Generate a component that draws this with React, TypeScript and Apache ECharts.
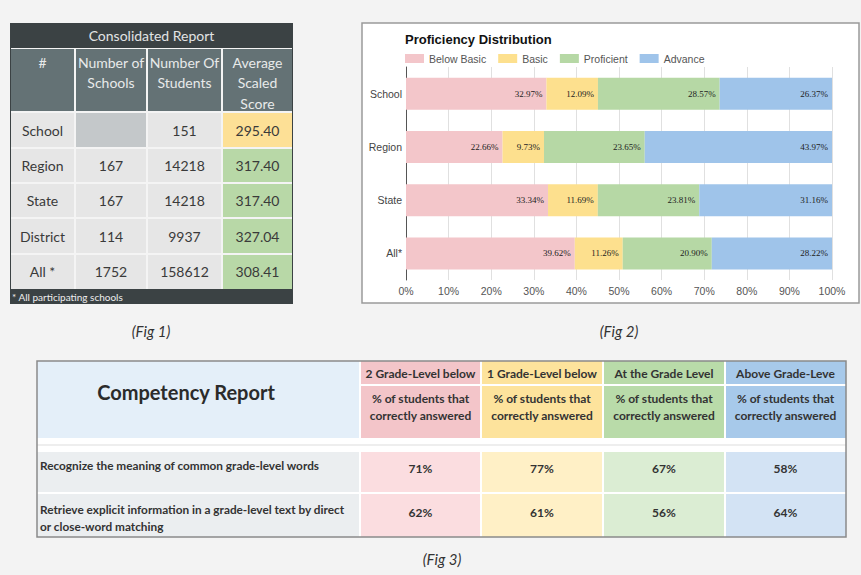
import { useEffect, useRef } from 'react';
import * as echarts from 'echarts';

// ---------- Fig 2 data ----------
const categories = ['School', 'Region', 'State', 'All*'];
const levelNames = ['Below Basic', 'Basic', 'Proficient', 'Advance'];
const belowBasic = [32.97, 22.66, 33.34, 39.62];
const basic = [12.09, 9.73, 11.69, 11.26];
const proficient = [28.57, 23.65, 23.81, 20.9];
const advance = [26.37, 43.97, 31.16, 28.22];
const xTicks = [0, 10, 20, 30, 40, 50, 60, 70, 80, 90, 100];

// ---------- Fig 1 data ----------
const reportTitle = 'Consolidated Report';
const reportHeaders = ['#', 'Number of\nSchools', 'Number Of\nStudents', 'Average\nScaled\nScore'];
const reportRows = ['School', 'Region', 'State', 'District', 'All *'];
const numSchools: (number | null)[] = [null, 167, 167, 114, 1752];
const numStudents = [151, 14218, 14218, 9937, 158612];
const avgScore = [295.4, 317.4, 317.4, 327.04, 308.41];
const reportFootnote = '* All participating schools';

// ---------- Fig 3 data ----------
const competencyTitle = 'Competency Report';
const gradeLevels = ['2 Grade-Level below', '1 Grade-Level below', 'At the Grade Level', 'Above Grade-Leve'];
const gradeSubHeader = '% of students that\ncorrectly answered';
const competencies = [
  'Recognize the meaning of common grade-level words',
  'Retrieve explicit information in a grade-level text by direct\nor close-word matching',
];
const pctCompetency1 = [71, 77, 67, 58];
const pctCompetency2 = [62, 61, 56, 64];

const captions = ['(Fig 1)', '(Fig 2)', '(Fig 3)'];

// ---------- styles ----------
const barColors = ['#f3c6ca', '#fde08e', '#b6d8a5', '#9fc4ea'];
const headColors = ['#f3c5c9', '#fde39c', '#b9dba9', '#a7c9ea'];
const bodyColors = ['#fbdde0', '#fff0c6', '#dbedd3', '#d3e3f4'];
const TABLE_FONT = 'Lato, "Open Sans", sans-serif';

function txt(text: string, x: number, y: number, opts: any = {}) {
  return {
    type: 'text',
    z: 5,
    style: {
      text,
      x,
      y,
      fill: opts.fill || '#333',
      fontSize: opts.fontSize || 13,
      fontFamily: opts.fontFamily || TABLE_FONT,
      fontWeight: opts.fontWeight || 'normal',
      fontStyle: opts.fontStyle || 'normal',
      align: opts.align || 'center',
      verticalAlign: 'middle',
    },
  };
}

function rect(x: number, y: number, w: number, h: number, fill: string, extra: any = {}) {
  return {
    type: 'rect',
    z: extra.z ?? 1,
    shape: { x, y, width: w, height: h },
    style: { fill, stroke: extra.stroke, lineWidth: extra.lineWidth },
  };
}

function buildFig1(): any[] {
  const X = [10, 75, 147, 222, 293];
  const rowY = [112, 148, 183, 218, 254, 289];
  const els: any[] = [];
  els.push(rect(10, 23, 283, 281, '#3b4244'));
  els.push(txt(reportTitle, (X[0] + X[4]) / 2, 35.5, { fill: '#e2e4e4', fontSize: 14 }));
  els.push(rect(11, 48, 281, 241, '#f4f4f4'));
  reportHeaders.forEach((h, i) => {
    const x0 = X[i] + 1;
    const x1 = X[i + 1] - 1;
    els.push(rect(x0, 49, x1 - x0, 62, '#647275', { z: 2 }));
    h.split('\n').forEach((line, k) => {
      els.push(txt(line, (X[i] + X[i + 1]) / 2, 62 + k * 20.5, { fill: '#e8eaea', fontSize: 14 }));
    });
  });
  reportRows.forEach((r, ri) => {
    const y0 = rowY[ri] + 1;
    const y1 = rowY[ri + 1] - (ri === reportRows.length - 1 ? 0 : 1);
    const cy = (rowY[ri] + rowY[ri + 1]) / 2;
    const vals = [
      r,
      numSchools[ri] == null ? '' : String(numSchools[ri]),
      String(numStudents[ri]),
      avgScore[ri].toFixed(2),
    ];
    vals.forEach((v, ci) => {
      let fill = '#e6e6e6';
      if (ci === 1 && numSchools[ri] == null) fill = '#c4c8ca';
      if (ci === 3) fill = avgScore[ri] < 300 ? '#fde096' : '#b8d8a7';
      const x0 = X[ci] + 1;
      const x1 = X[ci + 1] - 1;
      els.push(rect(x0, y0, x1 - x0, y1 - y0, fill, { z: 2 }));
      if (v) els.push(txt(v, (X[ci] + X[ci + 1]) / 2, cy, { fill: '#3a3a3a', fontSize: 14 }));
    });
  });
  els.push(txt(reportFootnote, 12, 297, { fill: '#eeeeee', fontSize: 10, align: 'left' }));
  return els;
}

function buildFig3(): any[] {
  const X = [37, 360, 481, 603, 725, 846];
  const els: any[] = [];
  els.push(rect(37, 361, 809, 176, '#ffffff'));
  els.push(rect(37, 361, 322, 77, '#e4eff9', { z: 2 }));
  els.push(txt(competencyTitle, 186, 392, { fontSize: 20, fontWeight: 'bold', fill: '#2b2b2b' }));
  gradeLevels.forEach((g, j) => {
    const x0 = X[j + 1] + 1;
    const x1 = X[j + 2] - (j === gradeLevels.length - 1 ? 0 : 1);
    const cx = (X[j + 1] + X[j + 2]) / 2;
    els.push(rect(x0, 361, x1 - x0, 23, headColors[j], { z: 2 }));
    els.push(rect(x0, 386, x1 - x0, 52, headColors[j], { z: 2 }));
    els.push(txt(g, cx, 373, { fontSize: 12, fontWeight: 'bold', fill: '#333' }));
    gradeSubHeader.split('\n').forEach((line, k) => {
      els.push(txt(line, cx, 398 + k * 17, { fontSize: 12, fontWeight: 'bold', fill: '#333' }));
    });
  });
  els.push(rect(37, 444, 809, 2, '#eeeeee', { z: 2 }));
  const rowsY = [[452, 492], [494, 537]];
  const pcts = [pctCompetency1, pctCompetency2];
  const textY = [[465], [509, 526]];
  const valY = [468, 512];
  competencies.forEach((c, ri) => {
    const [y0, y1] = rowsY[ri];
    els.push(rect(37, y0, 322, y1 - y0, '#ebeef0', { z: 2 }));
    c.split('\n').forEach((line, k) => {
      els.push(txt(line, 40, textY[ri][k], { fontSize: 11.8, fontWeight: 'bold', fill: '#333', align: 'left' }));
    });
    pcts[ri].forEach((p, j) => {
      const x0 = X[j + 1] + 1;
      const x1 = X[j + 2] - (j === gradeLevels.length - 1 ? 0 : 1);
      els.push(rect(x0, y0, x1 - x0, y1 - y0, bodyColors[j], { z: 2 }));
      els.push(txt(p + '%', (X[j + 1] + X[j + 2]) / 2, valY[ri], { fontSize: 12, fontWeight: 'bold', fill: '#333' }));
    });
  });
  els.push({
    type: 'rect',
    z: 4,
    shape: { x: 37, y: 361, width: 809, height: 176 },
    style: { fill: 'none', stroke: '#8a8a8a', lineWidth: 1.5 },
  });
  return els;
}

export default function App() {
  const ref = useRef<HTMLDivElement>(null);
  useEffect(() => {
    if (!ref.current) return;
    const chart = echarts.init(ref.current, undefined, { renderer: 'svg' });
    const seriesData = [belowBasic, basic, proficient, advance];
    const elements: any[] = [
      {
        type: 'rect',
        z: -1,
        shape: { x: 362, y: 23, width: 497, height: 280 },
        style: { fill: '#ffffff', stroke: '#9a9a9a', lineWidth: 1.5 },
      },
      ...buildFig1(),
      ...buildFig3(),
      txt(captions[0], 151, 331, { fontSize: 15, fontStyle: 'italic', fill: '#333' }),
      txt(captions[1], 619, 331, { fontSize: 15, fontStyle: 'italic', fill: '#333' }),
      txt(captions[2], 442, 559, { fontSize: 15, fontStyle: 'italic', fill: '#333' }),
    ];
    chart.setOption({
      animation: false,
      backgroundColor: '#f3f3f3',
      title: {
        text: 'Proficiency Distribution',
        left: 405,
        top: 33,
        padding: 0,
        textStyle: { fontFamily: '"Liberation Sans", Arial, sans-serif', fontSize: 13, fontWeight: 'bold', color: '#111' },
      },
      legend: {
        left: 405,
        top: 53,
        padding: 0,
        icon: 'rect',
        itemWidth: 19,
        itemHeight: 9,
        itemGap: 12,
        data: levelNames,
        textStyle: { fontFamily: '"Liberation Sans", Arial, sans-serif', fontSize: 10.5, color: '#555' },
      },
      grid: { left: 406, right: 29, top: 67, bottom: 295, containLabel: false },
      xAxis: {
        type: 'value',
        min: xTicks[0],
        max: xTicks[xTicks.length - 1],
        interval: xTicks[1] - xTicks[0],
        axisLine: { show: false },
        axisTick: { show: false },
        axisLabel: {
          formatter: '{value}%',
          fontFamily: '"Liberation Sans", Arial, sans-serif',
          fontSize: 10.5,
          color: '#555',
          margin: 5,
        },
        splitLine: { show: true, lineStyle: { color: '#e0e0e0', width: 1 } },
      },
      yAxis: {
        type: 'category',
        data: categories,
        inverse: true,
        axisLine: { show: true, lineStyle: { color: '#555', width: 1 } },
        axisTick: { show: false },
        axisLabel: {
          fontFamily: '"Liberation Sans", Arial, sans-serif',
          fontSize: 10.5,
          color: '#444',
          margin: 4,
        },
      },
      series: levelNames.map((name, i) => ({
        name,
        type: 'bar',
        stack: 'total',
        barWidth: 32,
        data: seriesData[i],
        itemStyle: { color: barColors[i] },
        label: {
          show: true,
          position: 'insideRight',
          distance: 4,
          formatter: (p: any) => Number(p.value).toFixed(2) + '%',
          fontFamily: '"Liberation Serif", "Times New Roman", serif',
          fontSize: 9,
          color: '#222',
        },
      })),
      graphic: { elements },
    });
    return () => chart.dispose();
  }, []);
  return (
    <div
      ref={ref}
      style={{ position: 'fixed', left: 0, top: 0, width: 861, height: 575 }}
    />
  );
}
